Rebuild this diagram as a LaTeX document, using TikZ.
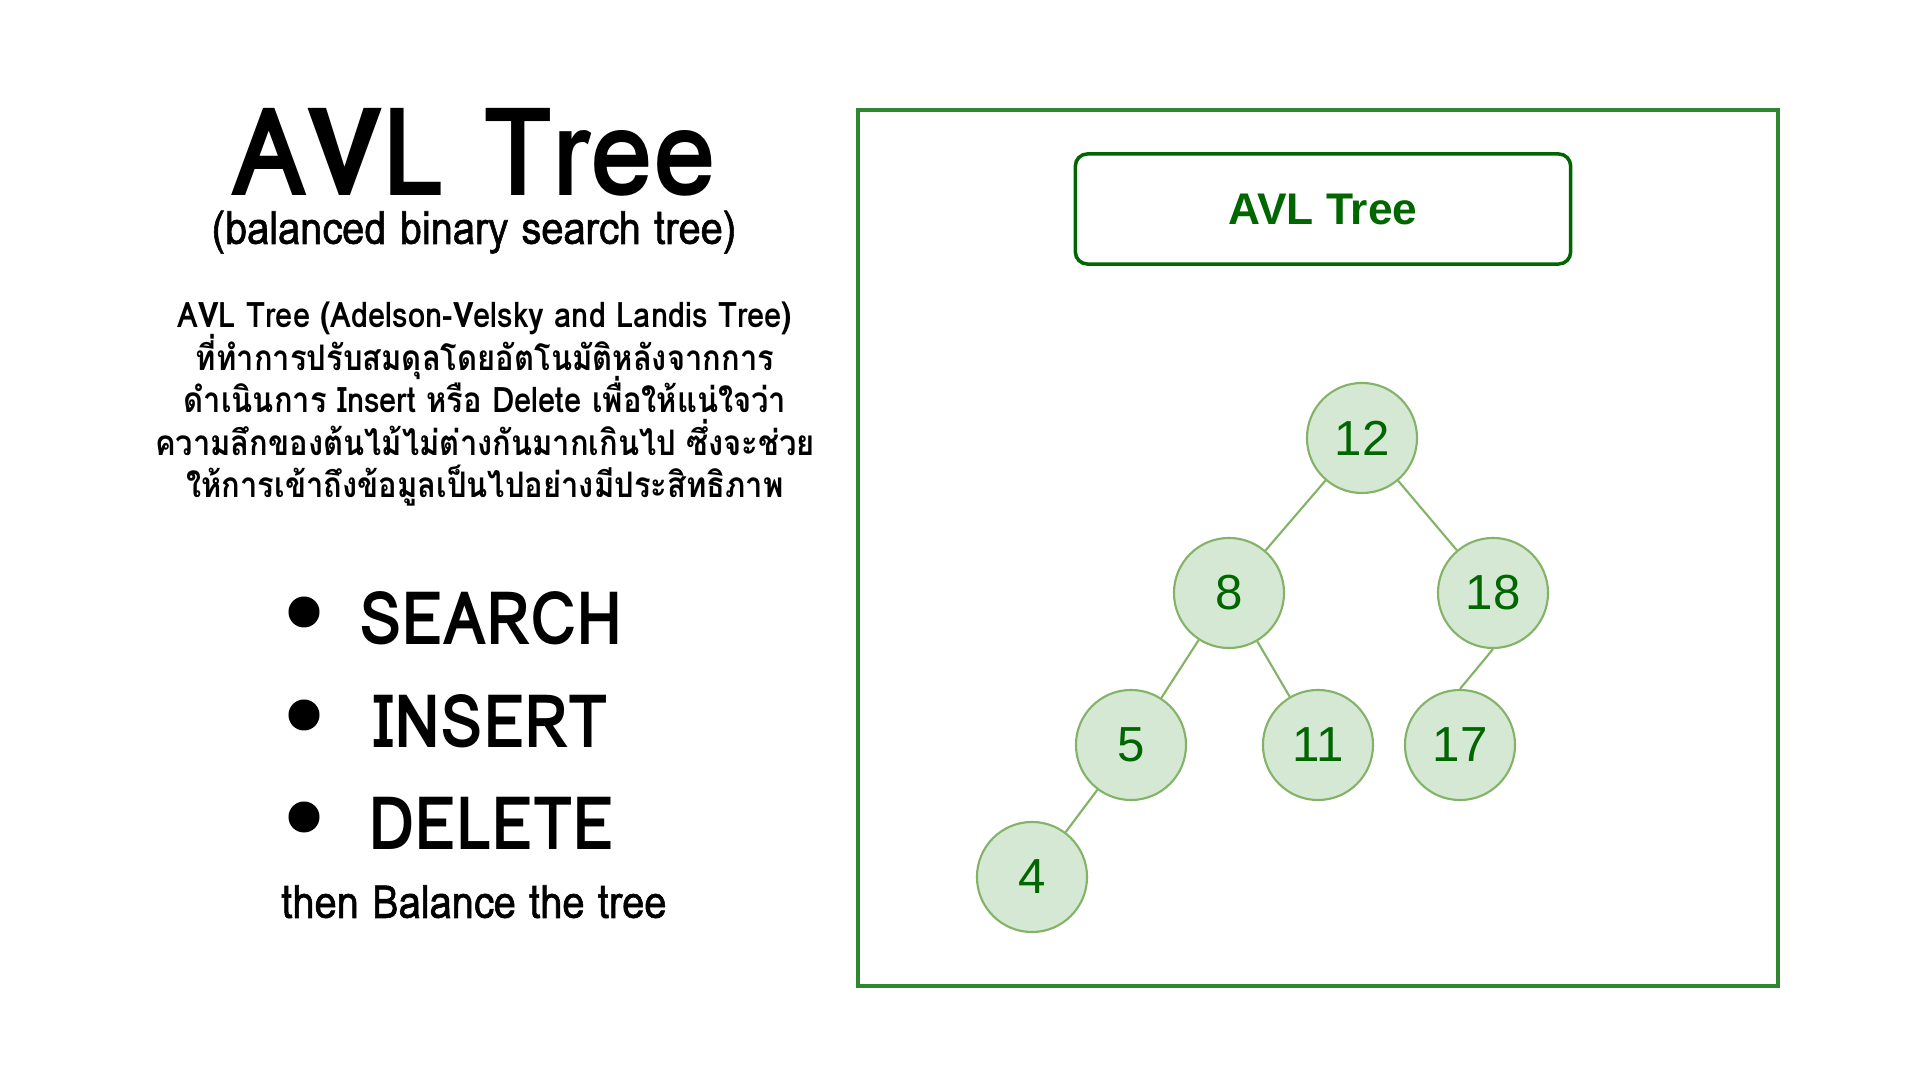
\documentclass[tikz,border=0pt]{standalone}
\usepackage{fontspec}
\setmainfont{Liberation Sans}
\newfontfamily\condfont[Script=Thai,FakeStretch=0.87]{Loma}
\newfontfamily\medfont[Script=Thai,FakeStretch=0.87,FakeBold=1.2]{Loma}
\newfontfamily\titlefont[Script=Thai,FakeStretch=0.92]{Loma}
\newfontfamily\descfont[Script=Thai,FakeStretch=0.88]{Loma}
\newcommand\tightlines{\lineskiplimit-20pt\relax}
\definecolor{framegreen}{RGB}{46,135,46}
\definecolor{darkgreen}{RGB}{0,102,0}
\definecolor{nodefill}{HTML}{D5E8D4}
\definecolor{nodeline}{HTML}{82B366}
\begin{document}
\begin{tikzpicture}[x=0.01cm,y=-0.01cm,
  lefttext/.style={anchor=base,inner sep=0pt,font=\condfont},
  op/.style={lefttext,font=\condfont\bfseries\fontsize{21}{25}\selectfont},
  dot/.style={circle,fill=black,inner sep=0pt,minimum size=0.31cm},
  avl/.style={circle,draw=nodeline,fill=nodefill,line width=0.6pt,minimum size=1.1cm,inner sep=0pt,
    text=darkgreen,font=\fontsize{14}{16}\selectfont},
  edge/.style={nodeline,line width=0.6pt}]
\useasboundingbox (0,0) rectangle (1920,1080);
\fill[white] (0,0) rectangle (1920,1080);
\node[lefttext,font=\titlefont\bfseries\fontsize{35}{40}\selectfont] (title) at (474,196) {AVL Tree};
\node[lefttext,font=\medfont\fontsize{13}{15}\selectfont] (subtitle) at (474,244) {(balanced binary search tree)};
\node[lefttext,align=center,font=\descfont\bfseries\fontsize{10}{12.1}\selectfont\tightlines] (desc) at (485,498)
  {AVL Tree (Adelson-Velsky and Landis Tree)\\
   ที่ทำการปรับสมดุลโดยอัตโนมัติหลังจากการ\\
   ดำเนินการ Insert หรือ Delete เพื่อให้แน่ใจว่า\\
   ความลึกของต้นไม้ไม่ต่างกันมากเกินไป ซึ่งจะช่วย\\
   ให้การเข้าถึงข้อมูลเป็นไปอย่างมีประสิทธิภาพ};
\node[dot] (d1) at (304,612) {};
\node[dot] (d2) at (304,715) {};
\node[dot] (d3) at (304,817) {};
\node[op] (search) at (491,645) {SEARCH};
\node[op] (insert) at (491,748) {INSERT};
\node[op] (delete) at (491,850) {DELETE};
\node[lefttext,font=\medfont\fontsize{13}{15}\selectfont] (balance) at (474,918) {then Balance the tree};
\draw[framegreen,line width=1pt] (858,110) rectangle (1778,986);
\node[draw=darkgreen,line width=1pt,rounded corners=0.12cm,minimum width=4.95cm,minimum height=1.1cm,
  text=darkgreen,font=\bfseries\fontsize{12.6}{14}\selectfont] (label) at (1323,209) {AVL Tree};
\node[avl] (n12) at (1362,438) {12};
\node[avl] (n8) at (1229,593) {8};
\node[avl] (n18) at (1493,593) {18};
\node[avl] (n5) at (1131,745) {5};
\node[avl] (n11) at (1318,745) {11};
\node[avl] (n17) at (1460,745) {17};
\node[avl] (n4) at (1032,877) {4};
\draw[edge] (n12) -- (n8);
\draw[edge] (n12) -- (n18);
\draw[edge] (n8) -- (n5);
\draw[edge] (n8) -- (n11);
\draw[edge] (n18.south) -- (n17.north);
\draw[edge] (n5) -- (n4);
\end{tikzpicture}
\end{document}
